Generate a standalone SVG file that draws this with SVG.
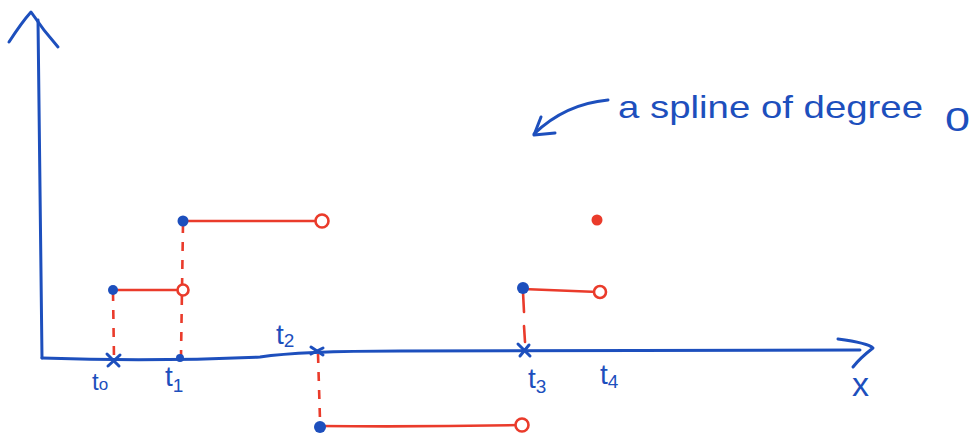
<svg xmlns="http://www.w3.org/2000/svg" width="978" height="438" viewBox="0 0 978 438">
<style>
.blue{stroke:#1d4fbd;fill:none;stroke-width:3;stroke-linecap:round;stroke-linejoin:round}
.red{stroke:#ea3b2b;fill:none;stroke-width:2.6;stroke-linecap:round}
.dash{stroke:#ea3b2b;fill:none;stroke-width:2.6;stroke-dasharray:9 9}
.open{stroke:#ea3b2b;fill:#fff;stroke-width:2.6}
.bdot{fill:#1d4fbd}
.rdot{fill:#ea3b2b}
.lbl{font-family:"Liberation Sans",Arial,sans-serif;fill:#1d4fbd}
</style>
<rect width="978" height="438" fill="#fff"/>
<g id="axes">
<path class="blue" d="M38 20 L42 358"/>
<path class="blue" d="M9 42 Q22 22 31 12 Q43 30 58 47"/>
<path class="blue" d="M42 358 Q150 362 260 357 Q300 351 400 351 L860 350"/>
<path class="blue" d="M838 339 Q868 343 873 348 Q860 358 853 367"/>
</g>
<g id="annotation">
<path class="blue" d="M608 100 Q565 104 534 134"/>
<path class="blue" d="M541 117 L534 135 L555 133"/>
<text class="lbl" x="618" y="118" font-size="32" textLength="305" lengthAdjust="spacingAndGlyphs">a spline of degree</text>
<text class="lbl" x="945" y="131" font-size="34" textLength="25" lengthAdjust="spacingAndGlyphs">0</text>
</g>
<g id="connectors">
<path class="dash" d="M113 292 L114 358"/>
<path class="dash" d="M183 224 L181 356"/>
<path class="dash" d="M318 354 L320 420"/>
<path class="red" d="M523 292 L524 312 M524 326 L525 342"/>
</g>
<g id="step0">
<path class="red" d="M113 290 L183 290"/>
<circle class="open" cx="183" cy="290" r="5.5"/>
<circle class="bdot" cx="113" cy="290" r="5"/>
</g>
<g id="step1">
<path class="red" d="M183 221 L322 221"/>
<circle class="open" cx="322" cy="221" r="6.5"/>
<circle class="bdot" cx="183" cy="221" r="5.5"/>
</g>
<g id="step2">
<path class="red" d="M320 426 Q420 427 520 425"/>
<circle class="open" cx="522" cy="425" r="6.5"/>
<circle class="bdot" cx="320" cy="427" r="6"/>
</g>
<g id="step3">
<path class="red" d="M523 289 L598 292"/>
<circle class="open" cx="600" cy="292" r="6"/>
<circle class="bdot" cx="523" cy="288" r="6"/>
<circle class="rdot" cx="597" cy="220" r="5.5"/>
</g>
<g id="knots">
<path class="blue" d="M107 354 L119 366 M108 366 L120 355"/>
<circle class="bdot" cx="180" cy="358" r="4"/>
<path class="blue" d="M311 347 L323 355 M311 354 L323 348"/>
<path class="blue" d="M518 344 L530 356 M520 356 L529 345"/>
</g>
<g id="labels">
<text class="lbl" x="92" y="390" font-size="24">t<tspan font-size="17">o</tspan></text>
<text class="lbl" x="165" y="386" font-size="28">t<tspan font-size="19" dy="6">1</tspan></text>
<text class="lbl" x="276" y="344" font-size="28">t<tspan font-size="19" dy="3">2</tspan></text>
<text class="lbl" x="528" y="388" font-size="28">t<tspan font-size="19" dy="5">3</tspan></text>
<text class="lbl" x="600" y="384" font-size="28">t<tspan font-size="19" dy="4">4</tspan></text>
<text class="lbl" x="852" y="396" font-size="34">x</text>
</g>
</svg>
